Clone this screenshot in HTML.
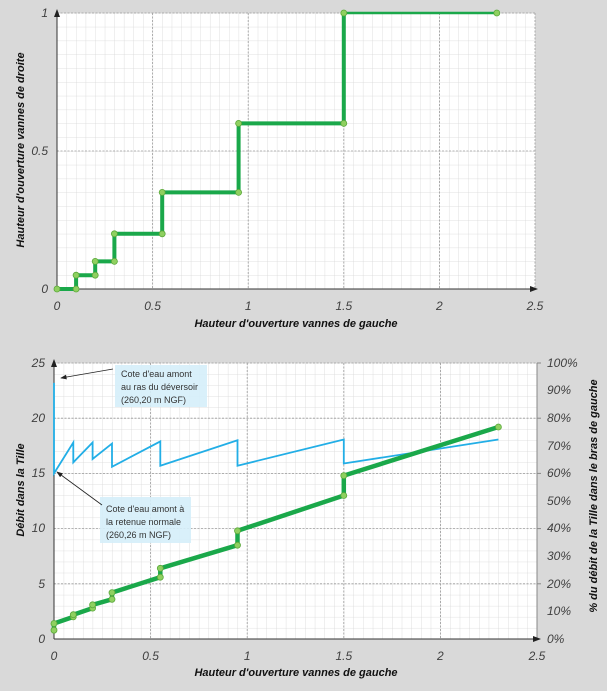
<!DOCTYPE html>
<html><head><meta charset="utf-8"><style>
body{margin:0;background:#d9d9d9;}
svg{display:block;font-family:"Liberation Sans",sans-serif;}
.t{font-size:12px;font-style:italic;fill:#404040;}
.ti{font-size:11px;font-style:italic;font-weight:bold;fill:#111;}
.an{font-size:9px;fill:#333;}
</style></head><body>
<svg width="607" height="691" viewBox="0 0 607 691">
<defs>
<pattern id="g1" x="57" y="13" width="9.56" height="13.8" patternUnits="userSpaceOnUse">
<path d="M0 0V13.8M0 0H9.56" stroke="#d8d8d8" stroke-width="0.8" fill="none"/></pattern>
<pattern id="g2" x="54" y="363" width="9.66" height="11.04" patternUnits="userSpaceOnUse">
<path d="M0 0V11.04M0 0H9.66" stroke="#d8d8d8" stroke-width="0.8" fill="none"/></pattern>
<marker id="ar" markerWidth="8" markerHeight="6" refX="7" refY="3" orient="auto"><path d="M0 0L8 3L0 6z" fill="#222"/></marker>
</defs>
<rect width="607" height="691" fill="#d9d9d9"/>
<!-- TOP CHART -->
<rect x="57" y="13" width="478" height="276" fill="#fff"/>
<rect x="57" y="13" width="478" height="276" fill="url(#g1)"/>
<g stroke="#9a9a9a" stroke-width="0.8" stroke-dasharray="2,1.5">
<line x1="152.6" y1="13" x2="152.6" y2="289"/><line x1="248.2" y1="13" x2="248.2" y2="289"/>
<line x1="343.8" y1="13" x2="343.8" y2="289"/><line x1="439.4" y1="13" x2="439.4" y2="289"/>
<line x1="535" y1="13" x2="535" y2="289"/>
<line x1="57" y1="151" x2="535" y2="151"/><line x1="57" y1="13" x2="535" y2="13"/>
</g>
<line x1="57" y1="289" x2="537" y2="289" stroke="#333" marker-end="url(#ar)"/>
<line x1="57" y1="289" x2="57" y2="10" stroke="#333" marker-end="url(#ar)"/>
<polyline fill="none" stroke="#1aa84a" stroke-width="4" points="57,289 76.1,289 76.1,275.2 95.2,275.2 95.2,261.4 114.4,261.4 114.4,233.8 162.2,233.8 162.2,192.4 238.6,192.4 238.6,123.4 343.8,123.4 343.8,13"/>
<line x1="343.8" y1="13" x2="496.8" y2="13" stroke="#1aa84a" stroke-width="2.5"/>
<g fill="#8fd060" stroke="#5aa83a" stroke-width="0.8">
<circle cx="57" cy="289" r="3"/><circle cx="76.1" cy="289" r="3"/><circle cx="76.1" cy="275.2" r="3"/><circle cx="95.2" cy="275.2" r="3"/><circle cx="95.2" cy="261.4" r="3"/><circle cx="114.4" cy="261.4" r="3"/><circle cx="114.4" cy="233.8" r="3"/><circle cx="162.2" cy="233.8" r="3"/><circle cx="162.2" cy="192.4" r="3"/><circle cx="238.6" cy="192.4" r="3"/><circle cx="238.6" cy="123.4" r="3"/><circle cx="343.8" cy="123.4" r="3"/><circle cx="343.8" cy="13" r="3"/><circle cx="496.8" cy="13" r="3"/>
</g>
<g class="t" text-anchor="middle">
<text x="57" y="310">0</text><text x="152.6" y="310">0.5</text><text x="248.2" y="310">1</text><text x="343.8" y="310">1.5</text><text x="439.4" y="310">2</text><text x="535" y="310">2.5</text>
</g>
<g class="t" text-anchor="end">
<text x="48" y="293">0</text><text x="48" y="155">0.5</text><text x="48" y="17">1</text>
</g>
<text class="ti" x="296" y="327" text-anchor="middle">Hauteur d'ouverture vannes de gauche</text>
<text class="ti" transform="translate(24,150) rotate(-90)" text-anchor="middle">Hauteur d'ouverture vannes de droite</text>
<!-- BOTTOM CHART -->
<rect x="54" y="363" width="483" height="276" fill="#fff"/>
<rect x="54" y="363" width="483" height="276" fill="url(#g2)"/>
<g stroke="#9a9a9a" stroke-width="0.8" stroke-dasharray="2,1.5">
<line x1="150.6" y1="363" x2="150.6" y2="639"/><line x1="247.2" y1="363" x2="247.2" y2="639"/>
<line x1="343.8" y1="363" x2="343.8" y2="639"/><line x1="440.4" y1="363" x2="440.4" y2="639"/>
<line x1="54" y1="583.8" x2="537" y2="583.8"/><line x1="54" y1="528.6" x2="537" y2="528.6"/>
<line x1="54" y1="473.4" x2="537" y2="473.4"/><line x1="54" y1="418.2" x2="537" y2="418.2"/>
<line x1="54" y1="363" x2="537" y2="363"/>
</g>
<line x1="537" y1="363" x2="537" y2="639" stroke="#888"/>
<line x1="54" y1="639" x2="540" y2="639" stroke="#333" marker-end="url(#ar)"/>
<line x1="54" y1="639" x2="54" y2="360" stroke="#333" marker-end="url(#ar)"/>
<g stroke="#888"><line x1="537" y1="363" x2="541" y2="363"/><line x1="537" y1="418.2" x2="541" y2="418.2"/><line x1="537" y1="473.4" x2="541" y2="473.4"/><line x1="537" y1="528.6" x2="541" y2="528.6"/><line x1="537" y1="583.8" x2="541" y2="583.8"/></g>
<polyline fill="none" stroke="#22aee6" stroke-width="1.8" points="54,382.9 54,473.4 73.3,442.5 73.3,462.4 92.6,442.5 92.6,459 112,443.6 112,466.8 160.3,441.4 160.3,465.7 237.5,440.3 237.5,465.7 343.8,439.5 343.8,463.5 498.4,439.5"/>
<polyline fill="none" stroke="#1aa84a" stroke-width="4.5" points="54,630.2 54,623.5 73.3,616.9 73.3,614.7 92.6,608.1 92.6,604.8 112,599.3 112,592.6 160.3,577.2 160.3,568.3 237.5,545.2 237.5,530.8 343.8,495.5 343.8,475.6 498.4,427"/>
<g fill="#8fd060" stroke="#5aa83a" stroke-width="0.8">
<circle cx="54" cy="630.2" r="3"/><circle cx="54" cy="623.5" r="3"/><circle cx="73.3" cy="616.9" r="3"/><circle cx="73.3" cy="614.7" r="3"/><circle cx="92.6" cy="608.1" r="3"/><circle cx="92.6" cy="604.8" r="3"/><circle cx="112" cy="599.3" r="3"/><circle cx="112" cy="592.6" r="3"/><circle cx="160.3" cy="577.2" r="3"/><circle cx="160.3" cy="568.3" r="3"/><circle cx="237.5" cy="545.2" r="3"/><circle cx="237.5" cy="530.8" r="3"/><circle cx="343.8" cy="495.5" r="3"/><circle cx="343.8" cy="475.6" r="3"/><circle cx="498.4" cy="427" r="3"/>
</g>
<rect x="115" y="365" width="92" height="42" fill="#d5eef9" opacity="0.9"/>
<text class="an" x="121" y="377">Cote d'eau amont</text>
<text class="an" x="121" y="390">au ras du déversoir</text>
<text class="an" x="121" y="403">(260,20 m NGF)</text>
<rect x="100" y="497" width="91" height="46" fill="#d5eef9" opacity="0.9"/>
<text class="an" x="106" y="512">Cote d'eau amont à</text>
<text class="an" x="106" y="525">la retenue normale</text>
<text class="an" x="106" y="538">(260,26 m NGF)</text>
<line x1="113" y1="369" x2="61" y2="378" stroke="#222" stroke-width="0.8" marker-end="url(#ar)"/>
<line x1="102" y1="505" x2="57" y2="472" stroke="#222" stroke-width="0.8" marker-end="url(#ar)"/>
<g class="t" text-anchor="middle">
<text x="54" y="660">0</text><text x="150.6" y="660">0.5</text><text x="247.2" y="660">1</text><text x="343.8" y="660">1.5</text><text x="440.4" y="660">2</text><text x="537" y="660">2.5</text>
</g>
<g class="t" text-anchor="end">
<text x="45" y="643">0</text><text x="45" y="588">5</text><text x="45" y="532">10</text><text x="45" y="477">15</text><text x="45" y="422">20</text><text x="45" y="367">25</text>
</g>
<g class="t">
<text x="547" y="643">0%</text><text x="547" y="615">10%</text><text x="547" y="588">20%</text><text x="547" y="560">30%</text><text x="547" y="532">40%</text><text x="547" y="505">50%</text><text x="547" y="477">60%</text><text x="547" y="450">70%</text><text x="547" y="422">80%</text><text x="547" y="394">90%</text><text x="547" y="367">100%</text>
</g>
<text class="ti" x="296" y="676" text-anchor="middle">Hauteur d'ouverture vannes de gauche</text>
<text class="ti" transform="translate(24,490) rotate(-90)" text-anchor="middle">Débit dans la Tille</text>
<text class="ti" transform="translate(597,496) rotate(-90)" text-anchor="middle">% du débit de la Tille dans le bras de gauche</text>
</svg>
</body></html>
